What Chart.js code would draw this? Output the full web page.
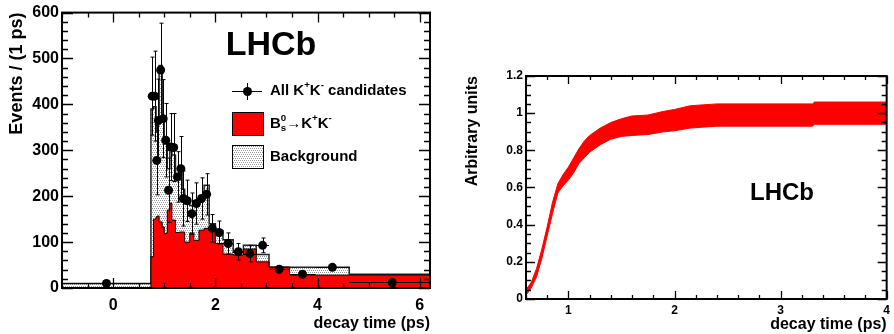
<!DOCTYPE html>
<html>
<head>
<meta charset="utf-8">
<title>Decay time</title>
<script src="https://cdn.jsdelivr.net/npm/chart.js@4.4.0/dist/chart.umd.min.js"></script>
<style>
  html, body { margin: 0; padding: 0; background: #fff; }
  #wrap { position: relative; width: 894px; height: 334px; }
  #histChart { position: absolute; left: 0; top: 0; }
  #accChart { position: absolute; left: 447px; top: 0; }
</style>
</head>
<body>
<div id="wrap">
  <canvas id="histChart" width="447" height="334"></canvas>
  <canvas id="accChart" width="447" height="334"></canvas>
</div>
<script>
// left panel: decay time histogram
const binEdges = [-1.0, 0.74, 0.79, 0.84, 0.87, 0.90, 0.96, 1.00, 1.06, 1.11, 1.15, 1.22, 1.30, 1.35, 1.40, 1.50,
    1.58, 1.68, 1.78, 1.88, 2.00, 2.15, 2.35, 2.55, 2.80, 3.05, 3.45, 3.96, 4.62, 6.30];
const dataTimes = [-0.13, 0.765, 0.815, 0.855, 0.885, 0.93, 0.98, 1.03, 1.085, 1.13, 1.185, 1.26, 1.325, 1.375, 1.45,
    1.54, 1.63, 1.73, 1.83, 1.94, 2.075, 2.25, 2.45, 2.675, 2.925, 3.25, 3.705, 4.29, 5.46];
const dataCounts = [10, 418, 418, 278, 365, 475, 369, 322, 213, 307, 306, 242, 260, 195, 190,
    162, 184, 195, 204, 130, 121, 97, 79, 75, 93, 41, 30, 45, 12];
const dataErrors = [3, 85, 98, 75, 90, 102, 85, 80, 70, 73, 74, 55, 70, 60, 45,
    45, 45, 45, 45, 30, 25, 23, 18, 18, 16, 8, 5, 5, 3];
const signalCounts = [0, 68, 150, 155, 157, 144, 133, 119, 170, 185, 148, 121, 122, 122, 100,
    120, 104, 126, 130, 128, 97, 74, 72, 85, 57, 45, 28, 28, 28];
const totalCounts = [10, 390, 395, 340, 365, 485, 370, 315, 260, 300, 290, 240, 250, 215, 195,
    180, 190, 200, 224, 140, 125, 105, 78, 93, 73, 46, 45, 45, 30];
const histXTicks = [0, 2, 4, 6];
const histYTicks = [0, 100, 200, 300, 400, 500, 600];

// right panel: acceptance band
const bandTimes = [0.60, 0.65, 0.70, 0.75, 0.80, 0.85, 0.90, 0.95, 1.00, 1.05, 1.10, 1.15, 1.20, 1.30, 1.40,
    1.50, 1.60, 1.75, 1.90, 2.00, 2.15, 2.40, 3.30, 3.32, 4.00];
const bandLow = [0.02, 0.06, 0.12, 0.22, 0.34, 0.46, 0.57, 0.61, 0.64, 0.68, 0.73, 0.76, 0.79, 0.83, 0.86,
    0.875, 0.88, 0.885, 0.90, 0.905, 0.92, 0.93, 0.93, 0.94, 0.94];
const bandHigh = [0.05, 0.09, 0.165, 0.27, 0.39, 0.52, 0.62, 0.67, 0.71, 0.76, 0.81, 0.85, 0.88, 0.92, 0.95,
    0.97, 0.985, 0.99, 1.01, 1.02, 1.04, 1.05, 1.05, 1.06, 1.06];
const accXTicks = [1, 2, 3, 4];
const accYTicks = [0, 0.2, 0.4, 0.6, 0.8, 1, 1.2];
const accYLabels = ['0', '0.2', '0.4', '0.6', '0.8', '1', '1.2'];

const FONT = '"Liberation Sans", Arial, Helvetica, sans-serif';
Chart.defaults.font.family = FONT;
Chart.defaults.color = '#000';

function stepPoints(values) {
    const pts = values.map((v, i) => ({ x: binEdges[i], y: v }));
    pts.push({ x: binEdges[binEdges.length - 1], y: values[values.length - 1] });
    return pts;
}

function dotPattern() {
    const c = document.createElement('canvas');
    c.width = 4; c.height = 4;
    const g = c.getContext('2d');
    g.fillStyle = '#fff';
    g.fillRect(0, 0, 4, 4);
    g.fillStyle = '#999';
    g.fillRect(0, 0, 1, 1); g.fillRect(2, 0, 1, 1);
    g.fillRect(1, 2, 1, 1); g.fillRect(3, 2, 1, 1);
    return g.createPattern(c, 'repeat');
}
const bgPattern = dotPattern();

// text with super/subscripts, parts = [{t, sup, sub, stack}]
function drawRich(ctx, parts, x, y, size) {
    let cx = x;
    ctx.textBaseline = 'middle';
    ctx.textAlign = 'left';
    parts.forEach(p => {
        const fs = (p.sup || p.sub) ? size * 0.65 : size;
        ctx.font = `bold ${fs}px ${FONT}`;
        let dy = 0;
        if (p.sup) dy = -size * 0.36;
        if (p.sub) dy = size * 0.28;
        ctx.fillText(p.t, cx, y + dy);
        if (!p.stack) cx += ctx.measureText(p.t).width;
    });
}

// ROOT-like inner ticks on all four sides plus the frame
function makeInnerTicks(o) {
    return {
        id: 'innerTicks',
        afterDraw(chart) {
            const { ctx, chartArea: a, scales: { x, y } } = chart;
            ctx.save();
            ctx.strokeStyle = '#000';
            ctx.lineWidth = 1.3;
            ctx.beginPath();
            const nx = Math.round((x.max - o.xStart) / o.xMinor);
            for (let i = 0; i <= nx; i++) {
                const v = o.xStart + i * o.xMinor;
                const r = v / o.xMajor;
                const len = Math.abs(r - Math.round(r)) < 1e-6 ? o.xMajorLen : o.xMinorLen;
                const px = Math.round(x.getPixelForValue(v)) + 0.5;
                ctx.moveTo(px, a.bottom); ctx.lineTo(px, a.bottom - len);
                ctx.moveTo(px, a.top); ctx.lineTo(px, a.top + len);
            }
            const ny = Math.round((y.max - y.min) / o.yMinor);
            for (let i = 0; i <= ny; i++) {
                const v = y.min + i * o.yMinor;
                const r = v / o.yMajor;
                const len = Math.abs(r - Math.round(r)) < 1e-6 ? o.yMajorLen : o.yMinorLen;
                const py = Math.round(y.getPixelForValue(v)) + 0.5;
                ctx.moveTo(a.left, py); ctx.lineTo(a.left + len, py);
                ctx.moveTo(a.right, py); ctx.lineTo(a.right - len, py);
            }
            ctx.stroke();
            ctx.lineWidth = 2;
            ctx.strokeRect(a.left, a.top, a.right - a.left, a.bottom - a.top);
            ctx.restore();
        }
    };
}

// vertical and horizontal error bars for the data points
const errorBars = {
    id: 'errorBars',
    beforeDatasetDraw(chart, args) {
        if (args.index !== 0) return;
        const { ctx, chartArea: a, scales: { x, y } } = chart;
        ctx.save();
        ctx.beginPath();
        ctx.rect(a.left, a.top, a.right - a.left, a.bottom - a.top);
        ctx.clip();
        ctx.strokeStyle = '#000';
        ctx.lineWidth = 1;
        ctx.beginPath();
        dataTimes.forEach((t, i) => {
            const px = Math.round(x.getPixelForValue(t)) + 0.5;
            const py = Math.round(y.getPixelForValue(dataCounts[i])) + 0.5;
            const hi = y.getPixelForValue(dataCounts[i] + dataErrors[i]);
            const lo = y.getPixelForValue(Math.max(dataCounts[i] - dataErrors[i], 0));
            ctx.moveTo(px, hi); ctx.lineTo(px, lo);
            ctx.moveTo(px - 2, hi); ctx.lineTo(px + 2, hi);
            ctx.moveTo(px - 2, lo); ctx.lineTo(px + 2, lo);
            ctx.moveTo(x.getPixelForValue(binEdges[i]), py);
            ctx.lineTo(x.getPixelForValue(binEdges[i + 1]), py);
        });
        ctx.stroke();
        ctx.restore();
    }
};

const histLabels = {
    id: 'histLabels',
    afterDraw(chart) {
        const ctx = chart.ctx;
        ctx.save();
        ctx.fillStyle = '#000';
        ctx.font = `bold 34px ${FONT}`;
        ctx.textAlign = 'center';
        ctx.textBaseline = 'middle';
        ctx.fillText('LHCb', 271, 46);

        // legend: data
        ctx.strokeStyle = '#000';
        ctx.lineWidth = 1;
        ctx.beginPath();
        ctx.moveTo(232, 91.5); ctx.lineTo(262, 91.5);
        ctx.moveTo(247.5, 83); ctx.lineTo(247.5, 100);
        ctx.stroke();
        ctx.beginPath();
        ctx.arc(247.5, 91.5, 4.5, 0, Math.PI * 2);
        ctx.fill();
        drawRich(ctx, [{ t: 'All K' }, { t: '+', sup: true }, { t: 'K' }, { t: '-', sup: true }, { t: ' candidates' }], 270, 91, 15);

        // legend: signal
        ctx.fillStyle = '#ff0000';
        ctx.fillRect(232, 112, 31, 23);
        ctx.strokeRect(232.5, 112.5, 31, 23);
        ctx.fillStyle = '#000';
        drawRich(ctx, [{ t: 'B' }, { t: '0', sup: true, stack: true }, { t: 's', sub: true }, { t: '\u2192K' },
            { t: '+', sup: true }, { t: 'K' }, { t: '-', sup: true }], 270, 124, 15);

        // legend: background
        ctx.fillStyle = bgPattern;
        ctx.fillRect(232, 145, 31, 23);
        ctx.strokeRect(232.5, 145.5, 31, 23);
        ctx.fillStyle = '#000';
        drawRich(ctx, [{ t: 'Background' }], 270, 157, 15);
        ctx.restore();
    }
};

const accLabels = {
    id: 'accLabels',
    afterDraw(chart) {
        const ctx = chart.ctx;
        ctx.save();
        ctx.fillStyle = '#000';
        ctx.font = `bold 24px ${FONT}`;
        ctx.textAlign = 'center';
        ctx.textBaseline = 'middle';
        ctx.fillText('LHCb', 335, 193);
        ctx.restore();
    }
};

const axisFont = { size: 16, weight: 'bold' };

new Chart(document.getElementById('histChart'), {
    type: 'line',
    data: {
        datasets: [
            {
                type: 'scatter',
                label: 'All K+K- candidates',
                data: dataTimes.map((t, i) => ({ x: t, y: dataCounts[i] })),
                pointRadius: 4.5,
                pointBackgroundColor: '#000',
                pointBorderColor: '#000',
                pointBorderWidth: 0,
                showLine: false
            },
            {
                label: 'Bs -> K+K-',
                data: stepPoints(signalCounts),
                stepped: 'before',
                fill: 'origin',
                backgroundColor: '#ff0000',
                borderColor: '#000',
                borderWidth: 1,
                pointRadius: 0
            },
            {
                label: 'Background',
                data: stepPoints(totalCounts),
                stepped: 'before',
                fill: 'origin',
                backgroundColor: bgPattern,
                borderColor: '#222',
                borderWidth: 1.5,
                pointRadius: 0
            }
        ]
    },
    options: {
        responsive: false,
        animation: false,
        layout: { padding: { top: 12, right: 17, left: 0, bottom: 0 } },
        plugins: {
            legend: { display: false },
            tooltip: { enabled: false }
        },
        scales: {
            x: {
                type: 'linear',
                min: -1,
                max: 6.2,
                afterBuildTicks: s => { s.ticks = histXTicks.map(v => ({ value: v })); },
                afterFit: s => { s.height = 46; },
                grid: { display: false, drawTicks: false },
                border: { display: false },
                ticks: { font: axisFont, color: '#000', padding: 8, maxRotation: 0, autoSkip: false },
                title: { display: true, text: 'decay time (ps)', align: 'end', font: axisFont, color: '#000',
                    padding: { top: 0, bottom: 1 } }
            },
            y: {
                type: 'linear',
                min: 0,
                max: 600,
                afterBuildTicks: s => { s.ticks = histYTicks.map(v => ({ value: v })); },
                afterFit: s => { s.width = 62; },
                grid: { display: false, drawTicks: false },
                border: { display: false },
                ticks: { font: axisFont, color: '#000', padding: 3 },
                title: { display: true, text: 'Events / (1 ps)', align: 'end', font: { size: 18, weight: 'bold' },
                    color: '#000', padding: { top: 6, bottom: 0 } }
            }
        }
    },
    plugins: [errorBars,
        makeInnerTicks({ xStart: -1, xMinor: 0.5, xMajor: 2, xMajorLen: 10, xMinorLen: 5,
            yMinor: 20, yMajor: 100, yMajorLen: 11, yMinorLen: 6 }),
        histLabels]
});

new Chart(document.getElementById('accChart'), {
    type: 'line',
    data: {
        datasets: [
            {
                label: 'lower',
                data: bandTimes.map((t, i) => ({ x: t, y: bandLow[i] })),
                borderColor: '#ff0000',
                borderWidth: 1,
                pointRadius: 0,
                fill: false
            },
            {
                label: 'upper',
                data: bandTimes.map((t, i) => ({ x: t, y: bandHigh[i] })),
                borderColor: '#ff0000',
                backgroundColor: '#ff0000',
                borderWidth: 1,
                pointRadius: 0,
                fill: '-1'
            }
        ]
    },
    options: {
        responsive: false,
        animation: false,
        layout: { padding: { top: 76, right: 2, left: 0, bottom: 0 } },
        plugins: {
            legend: { display: false },
            tooltip: { enabled: false }
        },
        scales: {
            x: {
                type: 'linear',
                min: 0.6,
                max: 4.0,
                afterBuildTicks: s => { s.ticks = accXTicks.map(v => ({ value: v })); },
                afterFit: s => { s.height = 35; },
                grid: { display: false, drawTicks: false },
                border: { display: false },
                ticks: { font: { size: 12, weight: 'bold' }, color: '#000', padding: 4, maxRotation: 0, autoSkip: false },
                title: { display: true, text: 'decay time (ps)', align: 'end', font: axisFont, color: '#000',
                    padding: { top: 0, bottom: 0 } }
            },
            y: {
                type: 'linear',
                min: 0,
                max: 1.2,
                afterBuildTicks: s => { s.ticks = accYTicks.map(v => ({ value: v })); },
                afterFit: s => { s.width = 79; },
                grid: { display: false, drawTicks: false },
                border: { display: false },
                ticks: { font: { size: 12, weight: 'bold' }, color: '#000', padding: 3,
                    callback: (v, i) => accYLabels[i] },
                title: { display: true, text: 'Arbitrary units', align: 'end', font: axisFont, color: '#000',
                    padding: { top: 16, bottom: 0 } }
            }
        }
    },
    plugins: [makeInnerTicks({ xStart: 0.6, xMinor: 0.2, xMajor: 1, xMajorLen: 8, xMinorLen: 4,
        yMinor: 0.05, yMajor: 0.2, yMajorLen: 9, yMinorLen: 5 }), accLabels]
});
</script>
</body>
</html>
